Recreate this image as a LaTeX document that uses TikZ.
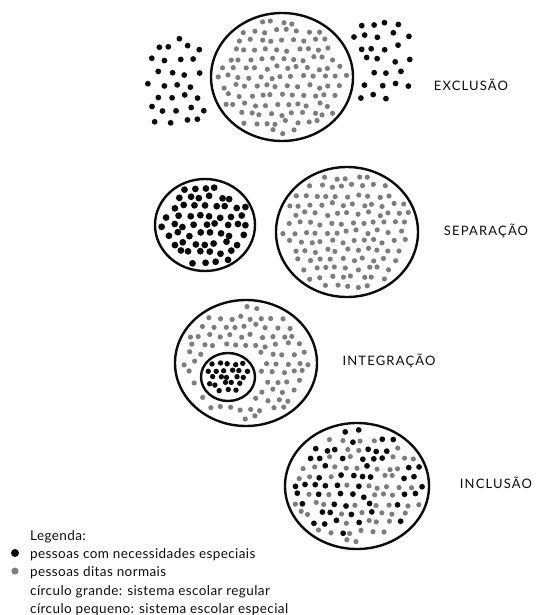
\documentclass[tikz,border=0pt]{standalone}
\usepackage{fontspec}
\setmainfont{Lato}
\usepackage{tikz}
\usetikzlibrary{positioning}
\definecolor{preta}{RGB}{12,12,12}
\definecolor{cinza}{RGB}{125,125,125}

% pontos numa elipse: centro x, centro y, raio x, raio y, passo, tipo (0 cinza, 1 preta, 2 mista), furo, raio da preta
\newcommand{\pessoas}[8]{%
  \foreach \j in {-9,...,9}{
    \foreach \i in {-9,...,9}{
      \pgfmathsetmacro\px{#1+(\i+0.5*mod(abs(\j),2))*#5+(rnd-0.5)*0.42*#5}
      \pgfmathsetmacro\py{#2+0.87*\j*#5+(rnd-0.5)*0.42*#5}
      \pgfmathtruncatemacro\ok{(((\px-#1)/#3)^2+((\py-#2)/#4)^2<1) && !(#7)}
      \ifnum\ok=1
        \pgfmathtruncatemacro\pick{#6==2 ? (rnd<0.45) : #6}
        \ifnum\pick=1 \fill[preta] (\px,\py) circle[radius=#8];
        \else \fill[cinza] (\px,\py) circle[radius=2.6pt]; \fi
      \fi
    }}}

\begin{document}
\begin{tikzpicture}[x=1pt,y=-1pt,
  circulo/.style={draw=preta,line width=2.4pt},
  rotulo/.style={font=\fontsize{13}{15}\selectfont\addfontfeature{LetterSpace=9},text=preta,inner sep=0pt},
  legenda/.style={font=\fontsize{13.5}{16}\selectfont\addfontfeature{LetterSpace=3},text=preta,inner sep=0pt,anchor=base west}]
\useasboundingbox (0,0) rectangle (535,615);
\pgfmathsetseed{5}

% exclusao
\draw[circulo] (282,77) ellipse (71 and 64);
\pessoas{282}{77}{65}{58}{10.5}{0}{0}{2.8pt}
\pessoas{178}{85}{37}{48}{14}{1}{((\px-282)/80)^2+((\py-77)/73)^2<1}{2.9pt}
\pessoas{380}{60}{35}{47}{14}{1}{((\px-282)/80)^2+((\py-77)/73)^2<1}{2.9pt}
\node[rotulo] (exclusao) at (471,85) {EXCLUSÃO};

% separacao
\draw[circulo] (205,225) ellipse (50 and 46);
\pessoas{205}{225}{45}{41}{10.5}{1}{0}{3.4pt}
\draw[circulo] (347,232) ellipse (71 and 65);
\pessoas{347}{232}{65}{59}{10.5}{0}{0}{2.8pt}
\node[rotulo] (separacao) at (486,231) {SEPARAÇÃO};

% integracao
\draw[circulo] (246,363) ellipse (71 and 63);
\pessoas{246}{363}{65}{57}{10.5}{0}{((\px-228)/33)^2+((\py-377)/30)^2<1}{2.8pt}
\draw[circulo] (228,377) ellipse (27 and 24);
\pessoas{228}{377}{22}{19}{8}{1}{0}{2.7pt}
\node[rotulo] (integracao) at (389,361) {INTEGRAÇÃO};

% inclusao
\draw[circulo] (357,486) ellipse (72 and 63);
\pessoas{357}{486}{66}{57}{10.5}{2}{0}{2.9pt}
\node[rotulo] (inclusao) at (496,483) {INCLUSÃO};

% legenda
\node[legenda] (leg0) at (30,540) {Legenda:};
\node[legenda] (leg1) at (30,558) {pessoas com necessidades especiais};
\node[legenda] (leg2) at (30,576.5) {pessoas ditas normais};
\node[legenda] (leg3) at (30,595) {círculo grande: sistema escolar regular};
\node[legenda] (leg4) at (30,613) {círculo pequeno: sistema escolar especial};
\node[circle,fill=preta,inner sep=0pt,minimum size=8pt] (bolapreta) at (15,553) {};
\node[circle,fill=cinza,inner sep=0pt,minimum size=7pt] (bolacinza) at (15,571) {};
\end{tikzpicture}
\end{document}
